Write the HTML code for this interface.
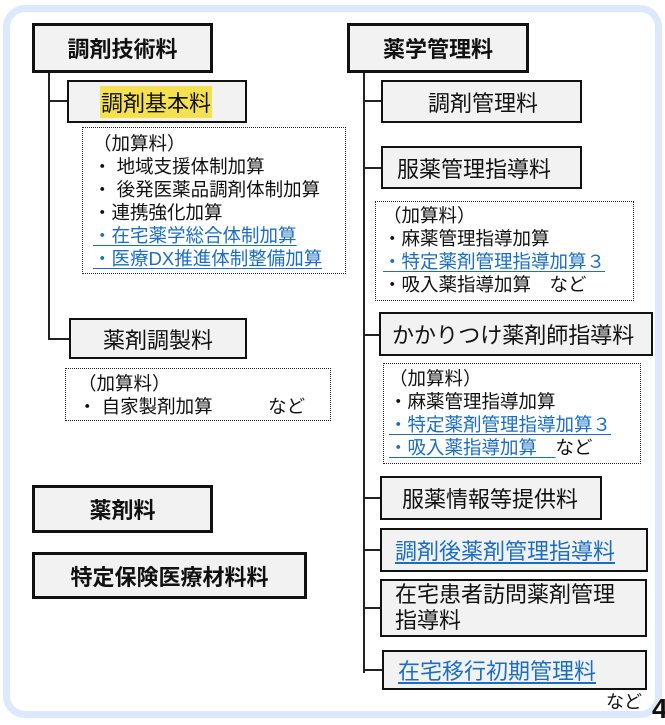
<!DOCTYPE html>
<html><head><meta charset="utf-8"><style>
body{margin:0;width:665px;height:725px;background:#fff;position:relative;overflow:hidden;font-family:"Liberation Sans","Noto Sans CJK JP",sans-serif;color:#111}
.frame{position:absolute;left:3px;top:5px;width:645px;height:699px;border:7px solid #dce8fb;border-radius:22px}
.b{position:absolute;box-sizing:border-box;background:#f2f2f2;border:2px solid #111;display:flex;align-items:center;font-size:22px;padding-left:14px;white-space:nowrap}
.t{border:3px solid #111;font-weight:bold;justify-content:center;padding-left:0;font-size:22px}
.d{position:absolute;box-sizing:border-box;border:1.5px dotted #222;background:#fff;font-size:18.5px;line-height:23px;white-space:nowrap}
.l{position:absolute;background:#222}
.u{color:#1a6fc4;text-decoration:underline;text-underline-offset:3px}
</style></head><body>
<div class="frame"></div>
<div class="l" style="left:48px;top:72px;width:2px;height:268px"></div>
<div class="l" style="left:48px;top:100px;width:20px;height:1.5px"></div>
<div class="l" style="left:48px;top:338px;width:22px;height:1.5px"></div>
<div class="b t" style="left:32px;top:23px;width:181px;height:50px">調剤技術料</div>
<div class="b" style="left:67px;top:80px;width:180px;height:43px;padding-left:31px"><span style="background:#f5e14f;padding:0 1px">調剤基本料</span></div>
<div class="d" style="left:82px;top:127px;width:264px;height:147px;padding:4px 0 0 10px">（加算料）<br>・ 地域支援体制加算<br>・ 後発医薬品調剤体制加算<br>・連携強化加算<br><span class="u">・在宅薬学総合体制加算</span><br><span class="u">・医療DX推進体制整備加算</span></div>
<div class="b" style="left:69px;top:318px;width:178px;height:41px;padding-left:32px">薬剤調製料</div>
<div class="d" style="left:65px;top:368px;width:266px;height:53px;padding:3px 0 0 12px">（加算料）<br>・ 自家製剤加算　　　など</div>
<div class="b t" style="left:32px;top:485px;width:181px;height:48px">薬剤料</div>
<div class="b t" style="left:32px;top:552px;width:275px;height:47px">特定保険医療材料料</div>

<div class="l" style="left:363px;top:72px;width:2px;height:601px"></div>
<div class="l" style="left:363px;top:100px;width:19px;height:1.5px"></div>
<div class="l" style="left:363px;top:167px;width:19px;height:1.5px"></div>
<div class="l" style="left:363px;top:334px;width:17px;height:1.5px"></div>
<div class="l" style="left:363px;top:497px;width:18px;height:1.5px"></div>
<div class="l" style="left:363px;top:549px;width:18px;height:1.5px"></div>
<div class="l" style="left:363px;top:607px;width:18px;height:1.5px"></div>
<div class="l" style="left:363px;top:669px;width:20px;height:1.5px"></div>
<div class="b t" style="left:347px;top:23px;width:182px;height:50px">薬学管理料</div>
<div class="b" style="left:381px;top:80px;width:201px;height:43px;padding-left:45px">調剤管理料</div>
<div class="b" style="left:381px;top:146px;width:201px;height:43px;padding-left:14px">服薬管理指導料</div>
<div class="d" style="left:375px;top:201px;width:259px;height:100px;padding:2px 0 0 7px;line-height:23px">（加算料）<br>・麻薬管理指導加算<br><span class="u">・特定薬剤管理指導加算３</span><br>・吸入薬指導加算　など</div>
<div class="b" style="left:379px;top:312px;width:274px;height:44px;padding-left:11px">かかりつけ薬剤師指導料</div>
<div class="d" style="left:383px;top:363px;width:258px;height:101px;padding:3px 0 0 5px;line-height:23px">（加算料）<br>・麻薬管理指導加算<br><span class="u">・特定薬剤管理指導加算３</span><br><span class="u">・吸入薬指導加算　</span>など</div>
<div class="b" style="left:380px;top:476px;width:222px;height:44px;padding-left:20px">服薬情報等提供料</div>
<div class="b" style="left:380px;top:528px;width:268px;height:44px;padding-left:13px"><span class="u">調剤後薬剤管理指導料</span></div>
<div class="b" style="left:380px;top:579px;width:267px;height:58px;padding-left:13px;white-space:normal;line-height:26px">在宅患者訪問薬剤管理<br>指導料</div>
<div class="b" style="left:382px;top:650px;width:265px;height:40px;padding-left:14px"><span class="u">在宅移行初期管理料</span></div>
<div style="position:absolute;left:606px;top:688px;font-size:18px">など</div>
<div style="position:absolute;left:652px;top:693px;font-size:28px;font-weight:bold">4</div>
</body></html>
